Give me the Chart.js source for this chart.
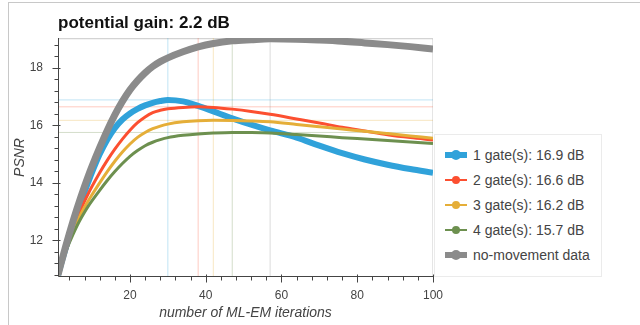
<!DOCTYPE html>
<html>
<head>
<meta charset="utf-8">
<title>potential gain</title>
<script src="https://cdn.jsdelivr.net/npm/chart.js@4.4.1/dist/chart.umd.min.js"></script>
<style>
  html, body { margin: 0; padding: 0; background: #fff; }
  #wrap { position: relative; width: 640px; height: 325px; overflow: hidden; font-family: "Liberation Sans", Arial, sans-serif; }
  #frame { position: absolute; left: 8px; top: 2px; width: 700px; height: 400px; border-top: 1px solid #c8c8c8; border-left: 1px solid #c8c8c8; }
  #chart { position: absolute; left: 0; top: 0; }
  #legend { position: absolute; left: 434px; top: 134px; width: 166px; padding: 7px 0 8px; border: 1px solid #ebebeb; background: #fff; }
  .item { height: 25.2px; display: flex; align-items: center; padding-left: 10px; font-size: 14px; color: #444; white-space: nowrap; }
  .glyph { position: relative; width: 22px; height: 12px; margin-right: 6px; flex: none; }
  .glyph .ln { position: absolute; left: 0; right: 0; top: 50%; }
  .glyph .dot { position: absolute; left: 50%; top: 50%; border-radius: 50%; }
</style>
</head>
<body>
<div id="wrap">
  <div id="frame"></div>
  <canvas id="chart"></canvas>
  <div id="legend"></div>
</div>
<script>
  const iterations = [1, 2, 3, 4, 5, 6, 7, 8, 9, 10, 12, 14, 16, 18, 20, 22, 24, 26, 28, 30,
    34, 38, 42, 47, 52, 57, 64, 70, 76, 82, 88, 94, 100];

  // PSNR per gating scheme (dB)
  const psnrGate1 = [10.8, 11.27, 11.72, 12.15, 12.56, 12.95, 13.32, 13.68, 14.03, 14.37, 14.99, 15.5, 15.9, 16.2, 16.41, 16.57, 16.69, 16.78, 16.84, 16.88,
    16.83, 16.67, 16.48, 16.24, 16.02, 15.82, 15.57, 15.29, 15.03, 14.81, 14.63, 14.48, 14.35];
  const psnrGate2 = [10.8, 11.26, 11.68, 12.07, 12.43, 12.76, 13.07, 13.36, 13.63, 13.88, 14.35, 14.78, 15.17, 15.52, 15.83, 16.09, 16.29, 16.44, 16.52, 16.57,
    16.62, 16.64, 16.62, 16.56, 16.48, 16.38, 16.22, 16.08, 15.93, 15.8, 15.67, 15.57, 15.49];
  const psnrGate3 = [10.8, 11.24, 11.63, 11.99, 12.32, 12.62, 12.9, 13.15, 13.38, 13.59, 14.0, 14.39, 14.75, 15.07, 15.35, 15.58, 15.75, 15.88, 15.97, 16.04,
    16.12, 16.16, 16.17, 16.165, 16.15, 16.12, 16.03, 15.95, 15.87, 15.79, 15.71, 15.63, 15.55];
  const psnrGate4 = [10.8, 11.22, 11.59, 11.92, 12.22, 12.5, 12.75, 12.98, 13.19, 13.38, 13.74, 14.08, 14.39, 14.67, 14.92, 15.12, 15.29, 15.41, 15.5, 15.57,
    15.65, 15.7, 15.73, 15.75, 15.745, 15.73, 15.68, 15.63, 15.57, 15.52, 15.47, 15.42, 15.37];
  const psnrNoMove = [10.8, 11.3, 11.78, 12.24, 12.68, 13.1, 13.5, 13.88, 14.24, 14.58, 15.22, 15.82, 16.36, 16.83, 17.23, 17.55, 17.82, 18.04, 18.21, 18.34,
    18.55, 18.72, 18.84, 18.93, 18.97, 19.0, 18.99, 18.96, 18.92, 18.86, 18.8, 18.73, 18.65];

  const seriesValues = [psnrGate1, psnrGate2, psnrGate3, psnrGate4, psnrNoMove];
  const seriesLabels = ['1 gate(s): 16.9 dB', '2 gate(s): 16.6 dB', '3 gate(s): 16.2 dB', '4 gate(s): 15.7 dB', 'no-movement data'];
  const seriesColors = ['#30a2da', '#fc4f30', '#e5ae38', '#6d904f', '#8b8b8b'];
  const seriesWidths = [6, 3, 3, 3, 7];

  // best iteration and best PSNR of each curve (reference lines)
  const peakIter = [30, 38, 42, 47, 57];
  const peakPsnr = [16.88, 16.64, 16.17, 15.75, 19.0];

  const xTicks = [20, 40, 60, 80, 100];
  const yTicks = [12, 14, 16, 18];
  const X_MIN = 1, X_MAX = 100;
  const Y_MIN = 10.73, Y_MAX = 19.03;

  const xMinor = [];
  for (let v = 4; v < X_MAX; v += 4) if (v % 20) xMinor.push(v);
  const yMinor = [];
  for (let v = 10.8; v < Y_MAX; v += 0.4) {
    const r = Math.round(v * 10) / 10;
    if (Math.round(r * 10) % 20) yMinor.push(r);
  }

  function fade(hex, a) {
    const n = parseInt(hex.slice(1), 16);
    return `rgba(${n >> 16}, ${(n >> 8) & 255}, ${n & 255}, ${a})`;
  }

  const datasets = [];
  seriesValues.forEach((vals, i) => {
    datasets.push({
      label: seriesLabels[i],
      data: iterations.map((it, k) => ({ x: it, y: vals[k] })),
      borderColor: seriesColors[i],
      backgroundColor: seriesColors[i],
      borderWidth: seriesWidths[i],
      pointRadius: 0,
      cubicInterpolationMode: 'monotone',
      order: 5 - i
    });
  });
  peakIter.forEach((it, i) => {
    const ref = { borderColor: fade(seriesColors[i], 0.3), borderWidth: 1, pointRadius: 0, order: 10, isRef: true };
    datasets.push(Object.assign({ data: [{ x: it, y: Y_MIN }, { x: it, y: Y_MAX }] }, ref));
    datasets.push(Object.assign({ data: [{ x: X_MIN, y: peakPsnr[i] }, { x: X_MAX, y: peakPsnr[i] }] }, ref));
  });

  // plot frame, axis lines, major + minor ticks
  const axesPlugin = {
    id: 'axes',
    beforeDatasetsDraw(chart) {
      const { ctx, chartArea: a } = chart;
      ctx.save();
      ctx.strokeStyle = '#e5e5e5';
      ctx.lineWidth = 1;
      ctx.strokeRect(Math.round(a.left) + 0.5, Math.round(a.top) + 0.5,
        Math.round(a.right - a.left) - 1, Math.round(a.bottom - a.top) - 1);
      ctx.restore();
    },
    afterDatasetsDraw(chart) {
      const { ctx, chartArea: a, scales: { x, y } } = chart;
      const left = Math.round(a.left) + 0.5;
      const bottom = Math.round(a.bottom) - 0.5;
      ctx.save();
      ctx.strokeStyle = '#444';
      ctx.lineWidth = 1;
      ctx.beginPath();
      ctx.moveTo(left, a.top);
      ctx.lineTo(left, bottom);
      ctx.lineTo(a.right, bottom);
      xTicks.forEach(v => {
        const px = Math.round(x.getPixelForValue(v)) + 0.5;
        ctx.moveTo(px, bottom - 2);
        ctx.lineTo(px, bottom + 6);
      });
      xMinor.forEach(v => {
        const px = Math.round(x.getPixelForValue(v)) + 0.5;
        ctx.moveTo(px, bottom);
        ctx.lineTo(px, bottom + 4);
      });
      yTicks.forEach(v => {
        const py = Math.round(y.getPixelForValue(v)) + 0.5;
        ctx.moveTo(left + 2, py);
        ctx.lineTo(left - 6, py);
      });
      yMinor.forEach(v => {
        const py = Math.round(y.getPixelForValue(v)) + 0.5;
        ctx.moveTo(left, py);
        ctx.lineTo(left - 4, py);
      });
      ctx.stroke();
      ctx.restore();
    }
  };

  Chart.defaults.font.family = '"Liberation Sans", Arial, sans-serif';

  const chart = new Chart(document.getElementById('chart'), {
    type: 'line',
    data: { datasets },
    options: {
      responsive: true,
      maintainAspectRatio: false,
      animation: false,
      events: [],
      layout: { padding: { left: 0, right: 207, top: 0, bottom: 0 } },
      plugins: {
        legend: { display: false },
        tooltip: { enabled: false },
        title: {
          display: true,
          text: 'potential gain: 2.2 dB',
          align: 'start',
          fullSize: false,
          color: '#111',
          font: { size: 17, weight: 'bold' },
          padding: { top: 13, bottom: 4.6 }
        }
      },
      scales: {
        x: {
          type: 'linear',
          min: X_MIN,
          max: X_MAX,
          afterBuildTicks: s => { s.ticks = xTicks.map(v => ({ value: v })); },
          afterFit: s => { s.height = 48; },
          grid: { display: false, tickLength: 6 },
          border: { display: false },
          ticks: { color: '#444', font: { size: 12 }, padding: 5, maxRotation: 0, autoSkip: false },
          title: {
            display: true,
            text: 'number of ML-EM iterations',
            color: '#444',
            font: { size: 14, style: 'italic' },
            padding: { top: 0, bottom: 3 }
          }
        },
        y: {
          min: Y_MIN,
          max: Y_MAX,
          afterBuildTicks: s => { s.ticks = yTicks.map(v => ({ value: v })); },
          afterFit: s => { s.width = 58; },
          grid: { display: false, tickLength: 6 },
          border: { display: false },
          ticks: { color: '#444', font: { size: 12 }, padding: 9, autoSkip: false },
          title: {
            display: true,
            text: 'PSNR',
            color: '#444',
            font: { size: 14, style: 'italic' },
            padding: { top: 11.6, bottom: 0 }
          }
        }
      }
    },
    plugins: [axesPlugin]
  });

  // HTML legend built from the data series
  const legendEl = document.getElementById('legend');
  chart.data.datasets.filter(d => !d.isRef).forEach(d => {
    const thick = d.borderWidth >= 6;
    const lw = thick ? 6 : 2.5;
    const dot = thick ? 10 : 8;
    const item = document.createElement('div');
    item.className = 'item';
    item.innerHTML =
      `<span class="glyph">` +
      `<span class="ln" style="height:${lw}px;margin-top:${-lw / 2}px;background:${d.borderColor}"></span>` +
      `<span class="dot" style="width:${dot}px;height:${dot}px;margin:${-dot / 2}px 0 0 ${-dot / 2}px;background:${d.borderColor}"></span>` +
      `</span><span>${d.label}</span>`;
    legendEl.appendChild(item);
  });
</script>
</body>
</html>
